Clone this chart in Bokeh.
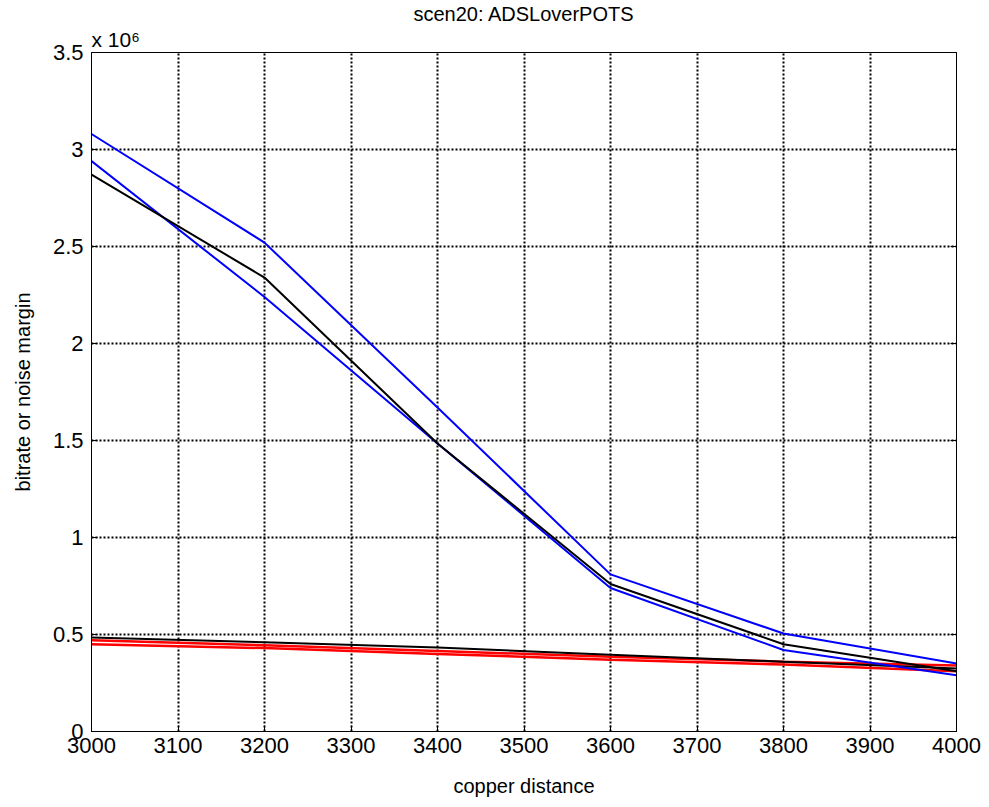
from bokeh.plotting import figure
from bokeh.models import Range1d, FixedTicker, LinearAxis, Title
from bokeh.embed import file_html
from bokeh.resources import INLINE

distance = [3000, 3200, 3400, 3600, 3800, 4000]
blue_upper = [3.08e6, 2.52e6, 1.67e6, 0.81e6, 0.505e6, 0.35e6]
black_main = [2.87e6, 2.34e6, 1.485e6, 0.76e6, 0.45e6, 0.31e6]
blue_lower = [2.94e6, 2.24e6, 1.485e6, 0.74e6, 0.42e6, 0.29e6]
black_low = [0.485e6, 0.46e6, 0.433e6, 0.395e6, 0.36e6, 0.325e6]
red_a = [0.47e6, 0.445e6, 0.415e6, 0.385e6, 0.36e6, 0.34e6]
red_b = [0.45e6, 0.43e6, 0.40e6, 0.37e6, 0.345e6, 0.31e6]

x_ticks = [3000, 3100, 3200, 3300, 3400, 3500, 3600, 3700, 3800, 3900, 4000]
y_ticks = [0, 500000, 1000000, 1500000, 2000000, 2500000, 3000000, 3500000]
y_tick_labels = ["0", "0.5", "1", "1.5", "2", "2.5", "3", "3.5"]

FONT = "Liberation Sans"
FS = "22px"

p = figure(width=989, height=807, output_backend="svg", toolbar_location=None,
           x_range=Range1d(3000, 4000), y_range=Range1d(0, 3.5e6),
           min_border_left=91, min_border_right=33, min_border_top=52, min_border_bottom=76,
           title="scen20: ADSLoverPOTS")
p.background_fill_color = "white"
p.border_fill_color = "white"
p.outline_line_color = "black"
p.outline_line_width = 1

p.title.align = "center"
p.title.text_font = FONT
p.title.text_font_size = "20px"
p.title.text_font_style = "normal"
p.title.text_color = "black"
p.title.offset = 0
p.title.standoff = 0

exp_title = Title(text="x 10\u2076", align="left", text_font=FONT, text_font_size="21px",
                  text_font_style="normal", text_color="black", offset=0, standoff=3)
p.add_layout(exp_title, "above")

p.xaxis.ticker = FixedTicker(ticks=x_ticks)
p.yaxis.ticker = FixedTicker(ticks=y_ticks)
p.yaxis.major_label_overrides = {t: l for t, l in zip(y_ticks, y_tick_labels)}
for ax in (p.xaxis[0], p.yaxis[0]):
    ax.major_label_text_font = FONT
    ax.major_label_text_font_size = FS
    ax.axis_label_text_font = FONT
    ax.axis_label_text_font_size = "20px"
    ax.axis_label_text_font_style = "normal"
    ax.major_tick_in = 6
    ax.major_tick_out = 0
    ax.minor_tick_line_color = None
    ax.axis_line_color = "black"
    ax.major_tick_line_color = "black"
    ax.major_label_text_color = "black"
    ax.axis_label_text_color = "black"
p.xaxis.axis_label = "copper distance"
p.yaxis.axis_label = "bitrate or noise margin"
p.xaxis.major_label_standoff = 6
p.yaxis.major_label_standoff = 8
p.xaxis.axis_label_standoff = 19
p.yaxis.axis_label_standoff = 16

rax = LinearAxis(ticker=FixedTicker(ticks=y_ticks),
                 major_label_overrides={t: "" for t in y_ticks},
                 major_tick_in=6, major_tick_out=0, minor_tick_line_color=None,
                 axis_line_color="black", major_label_standoff=0)
p.add_layout(rax, "right")

for g in (p.xgrid[0], p.ygrid[0]):
    g.grid_line_color = "black"
    g.grid_line_dash = "2 2"
    g.grid_line_width = 2
    g.grid_line_alpha = 1

p.line(distance, red_a, line_color="red", line_width=2.5)
p.line(distance, red_b, line_color="red", line_width=2.5)
p.line(distance, black_low, line_color="black", line_width=2)
p.line(distance, blue_upper, line_color="blue", line_width=2)
p.line(distance, blue_lower, line_color="blue", line_width=2)
p.line(distance, black_main, line_color="black", line_width=2)

open("out.html", "w").write(file_html(p, INLINE))
